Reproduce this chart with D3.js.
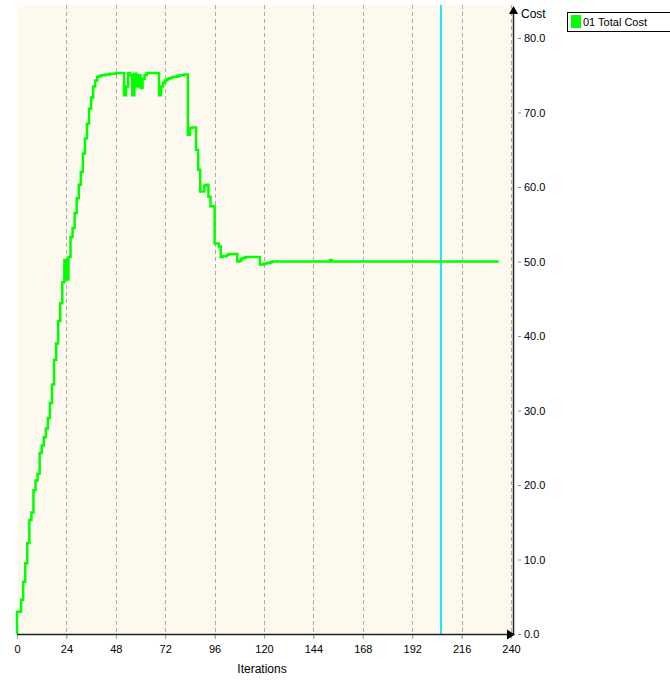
<!DOCTYPE html>
<html>
<head>
<meta charset="utf-8">
<script src="https://cdn.jsdelivr.net/npm/d3@7/dist/d3.min.js"></script>
<style>
  html, body { margin: 0; padding: 0; background: #ffffff; }
  svg { display: block; font-family: "Liberation Sans", Arial, sans-serif; }
</style>
</head>
<body>
<svg id="chart" width="670" height="682"></svg>
<script>
// Total cost per solver iteration (index = iteration number)
const totalCost = [
  0, 3.0, 3.0, 4.6, 7.0, 9.5, 12.2, 15.3, 16.3, 19.3,
  20.6, 21.5, 24.3, 25.3, 26.4, 27.6, 29.0, 31.0, 33.5, 36.8,
  39.0, 42.0, 44.4, 47.2, 50.2, 47.6, 50.6, 53.3, 54.5, 56.5,
  58.5, 60.3, 62.0, 64.5, 66.5, 68.5, 70.5, 72.0, 73.5, 74.3,
  74.8, 74.9, 75.0, 75.0, 75.1, 75.1, 75.2, 75.2, 75.2, 75.3,
  75.3, 75.3, 75.3, 72.3, 73.5, 75.3, 75.0, 72.3, 75.2, 73.5,
  75.0, 73.3, 74.5, 75.0, 75.3, 75.3, 75.3, 75.3, 75.3, 75.3,
  72.3, 73.5, 74.0, 74.3, 74.5, 74.6, 74.7, 74.8, 74.8, 74.9,
  75.0, 75.0, 75.1, 75.1, 67.0, 67.9, 68.0, 68.0, 65.0, 62.3,
  59.4, 59.4, 60.2, 60.3, 58.7, 57.4, 57.4, 52.4, 52.4, 52.0,
  50.6, 50.7, 50.7, 50.9, 51.0, 51.0, 51.0, 51.0, 50.0, 50.1,
  50.4, 50.5, 50.6, 50.6, 50.6, 50.6, 50.6, 50.6, 50.6, 49.6,
  49.6, 49.7, 49.8, 49.8, 49.9, 50.0, 50.0, 50.0, 50.0, 50.0,
  50.0, 50.0, 50.0, 50.0, 50.0, 50.0, 50.0, 50.0, 50.0, 50.0,
  50.0, 50.0, 50.0, 50.0, 50.0, 50.0, 50.0, 50.0, 50.0, 50.0,
  50.0, 50.0, 50.0, 50.2, 50.0, 50.0, 50.0, 50.0, 50.0, 50.0,
  50.0, 50.0, 50.0, 50.0, 50.0, 50.0, 50.0, 50.0, 50.0, 50.0,
  50.0, 50.0, 50.0, 50.0, 50.0, 50.0, 50.0, 50.0, 50.0, 50.0,
  50.0, 50.0, 50.0, 50.0, 50.0, 50.0, 50.0, 50.0, 50.0, 50.0,
  50.0, 50.0, 50.0, 50.0, 50.0, 50.0, 50.0, 50.0, 50.0, 50.0,
  50.0, 50.0, 50.0, 50.0, 50.0, 50.0, 50.0, 50.0, 50.0, 50.0,
  50.0, 50.0, 50.0, 50.0, 50.0, 50.0, 50.0, 50.0, 50.0, 50.0,
  50.0, 50.0, 50.0, 50.0, 50.0, 50.0, 50.0, 50.0, 50.0, 50.0,
  50.0, 50.0, 50.0, 50.0, 50.0
];

const xTicks = [0, 24, 48, 72, 96, 120, 144, 168, 192, 216, 240];
const yTicks = [0, 10, 20, 30, 40, 50, 60, 70, 80];
const seriesName = "01 Total Cost";
const currentIteration = 206;

const svg = d3.select("#chart");

const plot = { left: 17, right: 511, top: 5, bottom: 634 };
const x = d3.scaleLinear().domain([0, 240]).range([plot.left, plot.right]);
const y = d3.scaleLinear().domain([0, 80]).range([plot.bottom, 38]);
const axisX = 513;

// plot background
svg.append("rect")
  .attr("x", plot.left).attr("y", plot.top)
  .attr("width", plot.right - plot.left + 1).attr("height", plot.bottom - plot.top)
  .attr("fill", "#fdf9ee");

// vertical dashed grid lines
svg.append("g").selectAll("line")
  .data(xTicks.slice(1))
  .join("line")
  .attr("x1", d => Math.round(x(d)) + 0.5).attr("x2", d => Math.round(x(d)) + 0.5)
  .attr("y1", plot.top).attr("y2", plot.bottom + 5)
  .attr("stroke", "#acacac").attr("stroke-width", 1)
  .attr("stroke-dasharray", "4,3");

// current iteration marker
svg.append("line")
  .attr("x1", Math.round(x(currentIteration))).attr("x2", Math.round(x(currentIteration)))
  .attr("y1", plot.top).attr("y2", plot.bottom)
  .attr("stroke", "#22e6f6").attr("stroke-width", 2);

// cost line
const line = d3.line()
  .x((d, i) => x(i))
  .y(d => y(d))
  .curve(d3.curveStepBefore);

svg.append("path")
  .datum(totalCost)
  .attr("d", line)
  .attr("fill", "none")
  .attr("stroke", "#00ff00")
  .attr("stroke-width", 2.5)
  .attr("stroke-linejoin", "miter");

// bottom axis
const gx = svg.append("g")
  .attr("transform", `translate(0,${plot.bottom})`)
  .call(d3.axisBottom(x).tickValues(xTicks).tickSize(5).tickPadding(6).tickFormat(d3.format("d")));
gx.select(".domain").remove();
gx.selectAll(".tick line").attr("stroke", "#acacac").attr("y1", 1);
gx.selectAll(".tick text").attr("font-size", 11).attr("fill", "#000")
  .attr("font-family", "'Liberation Sans', Arial, sans-serif");

svg.append("line")
  .attr("x1", plot.left).attr("x2", axisX)
  .attr("y1", plot.bottom + 0.5).attr("y2", plot.bottom + 0.5)
  .attr("stroke", "#202020").attr("stroke-width", 1.5);
svg.append("path")
  .attr("d", `M${axisX + 2},${plot.bottom + 0.5} L${axisX - 6},${plot.bottom - 4.5} L${axisX - 6},${plot.bottom + 5.5} Z`)
  .attr("fill", "#000");

// right axis
const gy = svg.append("g")
  .attr("transform", `translate(${axisX},0)`)
  .call(d3.axisRight(y).tickValues(yTicks).tickSize(8).tickPadding(3).tickFormat(d3.format(".1f")));
gy.select(".domain").remove();
gy.selectAll(".tick line").attr("x1", 5).attr("stroke", "#8a8a8a");
gy.selectAll(".tick text").attr("font-size", 11).attr("fill", "#000")
  .attr("font-family", "'Liberation Sans', Arial, sans-serif");

svg.append("line")
  .attr("x1", axisX + 0.5).attr("x2", axisX + 0.5)
  .attr("y1", plot.top + 3).attr("y2", plot.bottom + 1)
  .attr("stroke", "#202020").attr("stroke-width", 1.5);
svg.append("path")
  .attr("d", `M${axisX + 0.5},${plot.top + 1} L${axisX - 4},${plot.top + 9} L${axisX + 5},${plot.top + 9} Z`)
  .attr("fill", "#000");

// axis titles
svg.append("text")
  .attr("x", axisX + 8).attr("y", 18)
  .attr("font-size", 12).attr("fill", "#000")
  .text("Cost");
svg.append("text")
  .attr("x", 262).attr("y", 673)
  .attr("text-anchor", "middle")
  .attr("font-size", 12).attr("fill", "#000")
  .text("Iterations");

// legend
const legend = svg.append("g");
legend.append("rect")
  .attr("x", 567.5).attr("y", 12.5).attr("width", 110).attr("height", 19)
  .attr("fill", "#fff").attr("stroke", "#000").attr("stroke-width", 1);
legend.append("rect")
  .attr("x", 571).attr("y", 15).attr("width", 10).attr("height", 13)
  .attr("fill", "#00ff00");
legend.append("text")
  .attr("x", 583).attr("y", 26)
  .attr("font-size", 11).attr("fill", "#000")
  .text(seriesName);
</script>
</body>
</html>
